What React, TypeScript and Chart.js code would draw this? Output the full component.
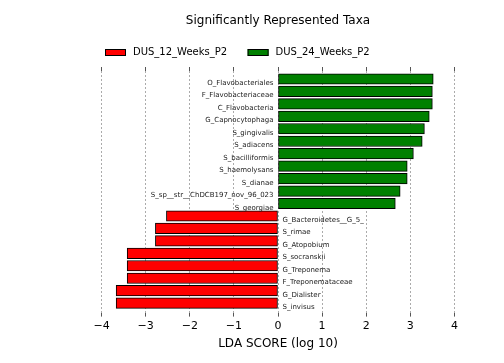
import React, { useEffect, useRef } from "react";
import { Chart, registerables } from "chart.js";

Chart.register(...registerables);

const taxa = [
  "O_Flavobacteriales",
  "F_Flavobacteriaceae",
  "C_Flavobacteria",
  "G_Capnocytophaga",
  "S_gingivalis",
  "S_adiacens",
  "S_bacilliformis",
  "S_haemolysans",
  "S_dianae",
  "S_sp__str__ChDCB197_nov_96_023",
  "S_georgiae",
  "G_Bacteroidetes__G_5_",
  "S_rimae",
  "G_Atopobium",
  "S_socranskii",
  "G_Treponema",
  "F_Treponemataceae",
  "G_Dialister",
  "S_invisus",
];

const ldaScores = [
  3.52, 3.5, 3.5, 3.43, 3.32, 3.27, 3.07, 2.93, 2.93, 2.77, 2.66,
  -2.53, -2.78, -2.78, -3.42, -3.42, -3.42, -3.67, -3.67,
];

const taxonGroup = [
  "DUS_24_Weeks_P2", "DUS_24_Weeks_P2", "DUS_24_Weeks_P2", "DUS_24_Weeks_P2",
  "DUS_24_Weeks_P2", "DUS_24_Weeks_P2", "DUS_24_Weeks_P2", "DUS_24_Weeks_P2",
  "DUS_24_Weeks_P2", "DUS_24_Weeks_P2", "DUS_24_Weeks_P2",
  "DUS_12_Weeks_P2", "DUS_12_Weeks_P2", "DUS_12_Weeks_P2", "DUS_12_Weeks_P2",
  "DUS_12_Weeks_P2", "DUS_12_Weeks_P2", "DUS_12_Weeks_P2", "DUS_12_Weeks_P2",
];

const groups = ["DUS_12_Weeks_P2", "DUS_24_Weeks_P2"];
const groupColors = ["#ff0000", "#008000"];

const xTicks = [-4, -3, -2, -1, 0, 1, 2, 3, 4];

const FONT = "'DejaVu Sans', sans-serif";

const labelPlugin = {
  id: "taxaLabels",
  afterDraw(chart: any) {
    const ctx = chart.ctx;
    const xs = chart.scales.x;
    const zero = xs.getPixelForValue(0);
    ctx.save();
    ctx.font = `7px ${FONT}`;
    ctx.fillStyle = "#222";
    ctx.textBaseline = "alphabetic";
    chart.data.datasets.forEach((ds: any, di: number) => {
      const meta = chart.getDatasetMeta(di);
      meta.data.forEach((el: any, j: number) => {
        const pt = ds.data[j];
        const name = taxa[pt.y];
        if (pt.x >= 0) {
          ctx.textAlign = "right";
          ctx.fillText(name, zero - 4.5, el.y + 6);
        } else {
          ctx.textAlign = "left";
          ctx.fillText(name, zero + 4.5, el.y + 6);
        }
      });
    });
    ctx.restore();

    // legend
    ctx.save();
    ctx.font = `10px ${FONT}`;
    ctx.textBaseline = "middle";
    ctx.textAlign = "left";
    let x = 105;
    const yc = 52.5;
    groups.forEach((g, i) => {
      ctx.fillStyle = groupColors[i];
      ctx.fillRect(x, yc - 3.5, 21, 7);
      ctx.strokeStyle = "#000";
      ctx.lineWidth = 1;
      ctx.strokeRect(x + 0.5, yc - 3, 20, 6);
      ctx.fillStyle = "#000";
      ctx.fillText(g, x + 28, yc);
      x += 28 + ctx.measureText(g).width + 20.5;
    });
    ctx.restore();
  },
};

export default function App() {
  const ref = useRef<HTMLCanvasElement>(null);

  useEffect(() => {
    if (!ref.current) return;
    const datasets = groups.map((g, gi) => ({
      label: g,
      data: taxa
        .map((t, i) => ({ x: ldaScores[i], y: i, g: taxonGroup[i] }))
        .filter((p) => p.g === g)
        .map((p) => ({ x: p.x, y: p.y })),
      backgroundColor: groupColors[gi],
      borderColor: "#000",
      borderWidth: 1,
      borderSkipped: false,
      barThickness: 10.5,
      grouped: false,
    }));

    const chart = new Chart(ref.current, {
      type: "bar",
      data: { datasets },
      options: {
        animation: false,
        responsive: false,
        indexAxis: "y",
        devicePixelRatio: 1,
        layout: { padding: { left: 101.6, right: 49.6, top: 0, bottom: 12 } },
        plugins: {
          legend: { display: false },
          tooltip: { enabled: false },
          title: {
            display: true,
            text: "Significantly Represented Taxa",
            color: "#000",
            font: { family: FONT, size: 12, weight: "normal" },
            padding: { top: 13.8, bottom: 38.8 },
          },
        },
        scales: {
          y: {
            type: "linear",
            reverse: true,
            offset: false,
            min: -0.64,
            max: 18.76,
            display: false,
            grid: { offset: false },
          },
          x: {
            type: "linear",
            position: "bottom",
            min: -4,
            max: 4,
            z: 1,
            afterBuildTicks: (s: any) => {
              s.ticks = xTicks.map((v) => ({ value: v }));
            },
            ticks: {
              color: "#000",
              font: { family: FONT, size: 11 },
              padding: 3.4,
              maxRotation: 0,
              callback: (v: any) =>
                Number(v) < 0 ? "\u2212" + Math.abs(Number(v)) : String(v),
            },
            grid: {
              color: "rgba(0,0,0,0.33)",
              lineWidth: 1,
              drawTicks: true,
              tickLength: 4,
              tickColor: "#555",
              tickWidth: 1,
              tickBorderDash: [],
            },
            border: { display: false, dash: [2, 2] },
            title: {
              display: true,
              text: "LDA SCORE (log 10)",
              color: "#000",
              font: { family: FONT, size: 12 },
              padding: { top: 0, bottom: 0 },
            },
          },
          x2: {
            type: "linear",
            position: "top",
            min: -4,
            max: 4,
            afterBuildTicks: (s: any) => {
              s.ticks = xTicks.map((v) => ({ value: v }));
            },
            ticks: { display: false },
            grid: {
              drawOnChartArea: false,
              drawTicks: true,
              tickLength: 4,
              tickColor: "#555",
              tickWidth: 1,
            },
            border: { display: false },
          },
        },
      } as any,
      plugins: [labelPlugin],
    });
    return () => chart.destroy();
  }, []);

  return (
    <div style={{ position: "absolute", left: 0, top: 0, width: 504, height: 363, background: "#fff" }}>
      <canvas ref={ref} width={504} height={363} style={{ display: "block" }} />
    </div>
  );
}
